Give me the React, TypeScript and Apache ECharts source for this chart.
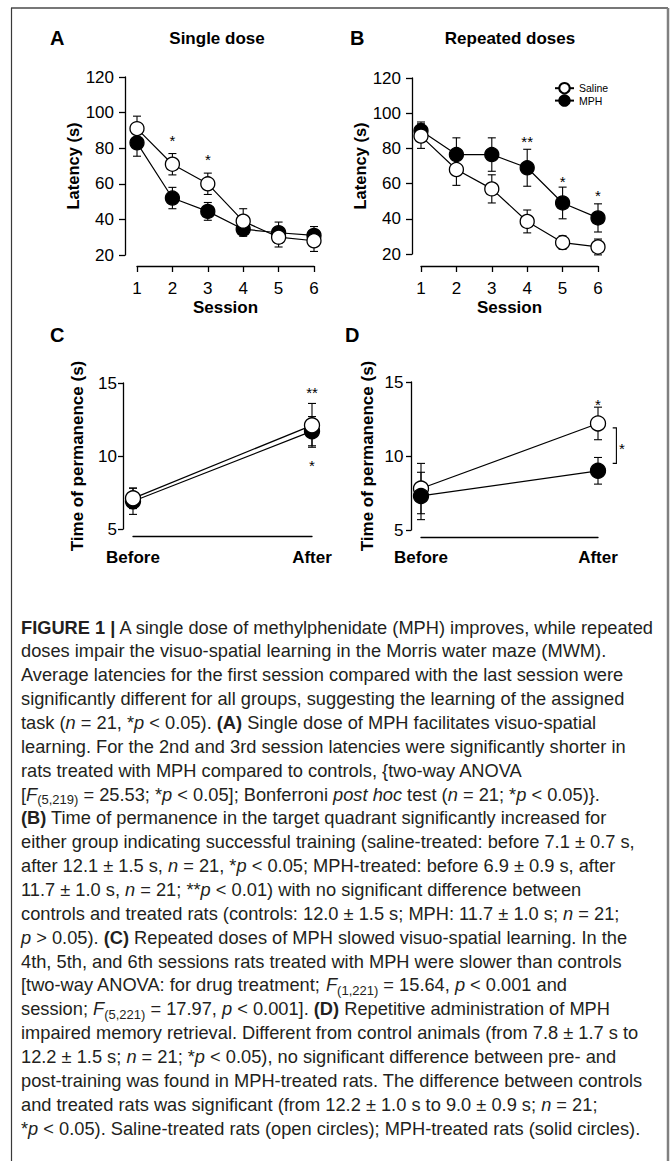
import React, { useEffect, useRef } from "react";
import * as echarts from "echarts";

const FF = "'Liberation Sans', Arial, Helvetica, sans-serif";

// ---- Panel A / B : latency per session ----
const sessions = ["1", "2", "3", "4", "5", "6"];
const singleSaline = [91, 71, 60, 39, 30, 28];
const singleSalineErr = [7, 6, 6, 7, 5.5, 6];
const singleMPH = [83, 52, 44.5, 34.5, 32.5, 31];
const singleMPHErr = [7.5, 6, 5, 4, 6, 5];
const repeatedSaline = [87, 68, 57, 38.5, 26.5, 24];
const repeatedSalineErr = [7, 9, 8, 6.5, 3.8, 4.5];
const repeatedMPH = [90, 76.5, 76.5, 69, 49, 40.5];
const repeatedMPHErr = [5, 9.5, 9.5, 10.5, 9, 8];

// ---- Panel C / D : time of permanence ----
const phases = ["Before", "After"];
const permSingleSaline = [7.1, 12.1];
const permSingleSalineErr = [0.7, 1.5];
const permSingleMPH = [6.9, 11.7];
const permSingleMPHErr = [0.9, 1.0];
const permRepeatedSaline = [7.8, 12.2];
const permRepeatedSalineErr = [1.7, 1.1];
const permRepeatedMPH = [7.3, 9.0];
const permRepeatedMPHErr = [1.6, 0.9];

// ---- significance marks ----
const sigAX = [1, 2];
const sigAY = [86, 75.5];
const sigAText = ["*", "*"];
const sigBX = [3, 4, 5];
const sigBY = [85.7, 63, 55];
const sigBText = ["**", "*", "*"];
const sigCX = [1, 1];
const sigCY = [14.55, 9.55];
const sigCText = ["**", "*"];
const sigDX = [1];
const sigDY = [13.7];
const sigDText = ["*"];
// bracket between groups in D: [x, top, bottom]
const bracketD = [[1, 11.9, 9.5]];

// ---- caption ----
type Seg = [string, string];
const captionLines: Seg[][] = [
  [["b", "FIGURE 1 |"], ["", " A single dose of methylphenidate (MPH) improves, while repeated"]],
  [["", "doses impair the visuo-spatial learning in the Morris water maze (MWM)."]],
  [["", "Average latencies for the first session compared with the last session were"]],
  [["", "significantly different for all groups, suggesting the learning of the assigned"]],
  [["", "task ("], ["i", "n"], ["", " = 21, *"], ["i", "p"], ["", " < 0.05). "], ["b", "(A)"], ["", " Single dose of MPH facilitates visuo-spatial"]],
  [["", "learning. For the 2nd and 3rd session latencies were significantly shorter in"]],
  [["", "rats treated with MPH compared to controls, {two-way ANOVA"]],
  [["", "["], ["i", "F"], ["s", "(5,219)"], ["", " = 25.53; *"], ["i", "p"], ["", " < 0.05]; Bonferroni "], ["i", "post hoc"], ["", " test ("], ["i", "n"], ["", " = 21; *"], ["i", "p"], ["", " < 0.05)}."]],
  [["b", "(B)"], ["", " Time of permanence in the target quadrant significantly increased for"]],
  [["", "either group indicating successful training (saline-treated: before 7.1 ± 0.7 s,"]],
  [["", "after 12.1 ± 1.5 s, "], ["i", "n"], ["", " = 21, *"], ["i", "p"], ["", " < 0.05; MPH-treated: before 6.9 ± 0.9 s, after"]],
  [["", "11.7 ± 1.0 s, "], ["i", "n"], ["", " = 21; **"], ["i", "p"], ["", " < 0.01) with no significant difference between"]],
  [["", "controls and treated rats (controls: 12.0 ± 1.5 s; MPH: 11.7 ± 1.0 s; "], ["i", "n"], ["", " = 21;"]],
  [["i", "p"], ["", " > 0.05). "], ["b", "(C)"], ["", " Repeated doses of MPH slowed visuo-spatial learning. In the"]],
  [["", "4th, 5th, and 6th sessions rats treated with MPH were slower than controls"]],
  [["", "[two-way ANOVA: for drug treatment; "], ["i", "F"], ["s", "(1,221)"], ["", " = 15.64, "], ["i", "p"], ["", " < 0.001 and"]],
  [["", "session; "], ["i", "F"], ["s", "(5,221)"], ["", " = 17.97, "], ["i", "p"], ["", " < 0.001]. "], ["b", "(D)"], ["", " Repetitive administration of MPH"]],
  [["", "impaired memory retrieval. Different from control animals (from 7.8 ± 1.7 s to"]],
  [["", "12.2 ± 1.5 s; "], ["i", "n"], ["", " = 21; *"], ["i", "p"], ["", " < 0.05), no significant difference between pre- and"]],
  [["", "post-training was found in MPH-treated rats. The difference between controls"]],
  [["", "and treated rats was significant (from 12.2 ± 1.0 s to 9.0 ± 0.9 s; "], ["i", "n"], ["", " = 21;"]],
  [["", "*"], ["i", "p"], ["", " < 0.05). Saline-treated rats (open circles); MPH-treated rats (solid circles)."]],
];

const CAP_X = 21;
const CAP_Y0 = 627;
const CAP_LH = 23.86;
const CAP_FS = 18.25;

function errRender(capHalf: number) {
  return (params: any, api: any) => {
    const x = api.value(0);
    const m = api.value(1);
    const e = api.value(2);
    const hi = api.coord([x, m + e]);
    const lo = api.coord([x, m - e]);
    const style = { stroke: "#000", lineWidth: 1.1 };
    return {
      type: "group",
      children: [
        { type: "line", shape: { x1: hi[0], y1: hi[1], x2: lo[0], y2: lo[1] }, style },
        { type: "line", shape: { x1: hi[0] - capHalf, y1: hi[1], x2: hi[0] + capHalf, y2: hi[1] }, style },
        { type: "line", shape: { x1: lo[0] - capHalf, y1: lo[1], x2: lo[0] + capHalf, y2: lo[1] }, style },
      ],
    };
  };
}

function sigRender(texts: string[]) {
  return (params: any, api: any) => {
    const p = api.coord([api.value(0), api.value(1)]);
    return {
      type: "text",
      x: p[0],
      y: p[1] + 3,
      style: {
        text: texts[params.dataIndex],
        fontSize: 15,
        fontFamily: FF,
        fill: "#000",
        align: "center",
        verticalAlign: "middle",
      },
    };
  };
}

function errSeries(name: string, idx: number, vals: number[], errs: number[], z: number) {
  return {
    name: name + " SEM",
    type: "custom",
    xAxisIndex: idx,
    yAxisIndex: idx,
    clip: false,
    z,
    encode: { x: 0, y: 1 },
    renderItem: errRender(4),
    data: vals.map((v, i) => [i, v, errs[i]]),
  };
}

function lineSeries(name: string, idx: number, vals: number[], filled: boolean, size: number, z: number) {
  return {
    name,
    type: "line",
    xAxisIndex: idx,
    yAxisIndex: idx,
    z,
    symbol: "circle",
    symbolSize: size,
    showSymbol: true,
    itemStyle: { color: filled ? "#000" : "#fff", borderColor: "#000", borderWidth: 1.3 },
    lineStyle: { color: "#000", width: 1.2 },
    emphasis: { disabled: true },
    data: vals,
  };
}

function sigSeries(idx: number, xs: number[], ys: number[], texts: string[]) {
  return {
    name: "sig" + idx,
    type: "custom",
    xAxisIndex: idx,
    yAxisIndex: idx,
    clip: false,
    z: 10,
    encode: { x: 0, y: 1 },
    renderItem: sigRender(texts),
    data: xs.map((x, i) => [x, ys[i]]),
  };
}

function richString(segs: Seg[]) {
  return segs.map(([s, t]) => (s ? `{${s}|${t}}` : t)).join("");
}

export default function App() {
  const ref = useRef<HTMLDivElement>(null);

  useEffect(() => {
    if (!ref.current) return;
    const chart = echarts.init(ref.current, undefined, { renderer: "svg" });

    const axisLine = { show: true, lineStyle: { color: "#000", width: 1.3 } };
    const labelBase = { color: "#000", fontSize: 17, fontFamily: FF };
    const nameStyle = { color: "#000", fontSize: 17, fontWeight: "bold", fontFamily: FF };

    const latX = (gi: number, offset: number) => ({
      gridIndex: gi,
      type: "category",
      data: sessions,
      boundaryGap: false,
      offset,
      axisLine,
      axisTick: { show: true, length: 6, lineStyle: { color: "#000", width: 1.3 } },
      axisLabel: { ...labelBase, margin: 14 },
      splitLine: { show: false },
      name: "Session",
      nameLocation: "middle",
      nameGap: 33,
      nameTextStyle: nameStyle,
    });
    const latY = (gi: number, offset: number, gap: number) => ({
      gridIndex: gi,
      type: "value",
      min: 20,
      max: 120,
      interval: 20,
      offset,
      axisLine,
      axisTick: { show: true, length: 6, lineStyle: { color: "#000", width: 1.3 } },
      axisLabel: { ...labelBase, margin: 11 },
      splitLine: { show: false },
      name: "Latency (s)",
      nameLocation: "middle",
      nameGap: gap,
      nameTextStyle: { ...nameStyle, fontSize: 16.5 },
    });
    const permX = (gi: number, offset: number, margin: number) => ({
      gridIndex: gi,
      type: "category",
      data: phases,
      boundaryGap: false,
      offset,
      axisLine,
      axisTick: { show: false },
      axisLabel: { ...labelBase, fontWeight: "bold", margin },
      splitLine: { show: false },
    });
    const permY = (gi: number, offset: number, gap: number, margin: number) => ({
      gridIndex: gi,
      type: "value",
      min: 5,
      max: 15,
      interval: 5,
      offset,
      axisLine,
      axisTick: { show: true, length: 5, lineStyle: { color: "#000", width: 1.3 } },
      axisLabel: { ...labelBase, margin },
      splitLine: { show: false },
      name: "Time of permanence (s)",
      nameLocation: "middle",
      nameGap: gap,
      nameTextStyle: nameStyle,
    });

    const rich = {
      b: { fontSize: CAP_FS, fontFamily: FF, fontWeight: "bold", fill: "#231f20", lineHeight: 24 },
      i: { fontSize: CAP_FS, fontFamily: FF, fontStyle: "italic", fill: "#231f20", lineHeight: 24 },
      s: { fontSize: 13, fontFamily: FF, fill: "#231f20", lineHeight: 14, verticalAlign: "bottom" },
    };

    const captionGraphics = captionLines.map((segs, i) => ({
      type: "text",
      x: CAP_X,
      y: CAP_Y0 + i * CAP_LH,
      style: {
        text: richString(segs),
        fontSize: CAP_FS,
        fontFamily: FF,
        fill: "#231f20",
        verticalAlign: "middle",
        lineHeight: 24,
        rich,
      },
    }));

    const label = (text: string, x: number, y: number, size: number, align = "left") => ({
      type: "text",
      x,
      y,
      style: { text, fontSize: size, fontWeight: "bold", fontFamily: FF, fill: "#000", align, verticalAlign: "middle" },
    });

    const option: any = {
      animation: false,
      backgroundColor: "#fff",
      grid: [
        { left: 137, top: 77, width: 177, height: 178 },
        { left: 421, top: 78, width: 177, height: 176 },
        { left: 133, top: 383, width: 179, height: 146 },
        { left: 421, top: 382, width: 177, height: 148 },
      ],
      xAxis: [latX(0, 11), latX(1, 12), permX(2, 7.5, 12), permX(3, 7, 11.5)],
      yAxis: [latY(0, 12, 41), latY(1, 9, 43), permY(2, 10, 37.5, 6), permY(3, 10, 35.5, 7.5)],
      legend: {
        data: ["Saline", "MPH"],
        orient: "vertical",
        left: 554,
        top: 82,
        padding: 0,
        itemWidth: 19,
        itemHeight: 13,
        itemGap: 0,
        selectedMode: false,
        textStyle: { color: "#000", fontSize: 10.5, fontFamily: FF },
      },
      graphic: [
        { type: "line", shape: { x1: 11, y1: 8, x2: 668, y2: 8 }, style: { stroke: "#4a4a4a", lineWidth: 1.5 } },
        { type: "line", shape: { x1: 11.5, y1: 8, x2: 11.5, y2: 1161 }, style: { stroke: "#3a3a3a", lineWidth: 1.2 } },
        { type: "line", shape: { x1: 668, y1: 8, x2: 668, y2: 1161 }, style: { stroke: "#808080", lineWidth: 2.5 } },
        label("A", 50, 38, 20),
        label("B", 350, 38, 20),
        label("C", 50, 335, 20),
        label("D", 345, 335, 20),
        label("Single dose", 217, 38, 17, "center"),
        label("Repeated doses", 510, 38, 17, "center"),
        ...captionGraphics,
      ],
      series: [
        // Panel A
        errSeries("MPH", 0, singleMPH, singleMPHErr, 1),
        errSeries("Saline", 0, singleSaline, singleSalineErr, 1),
        lineSeries("MPH", 0, singleMPH, true, 14, 2),
        lineSeries("Saline", 0, singleSaline, false, 14, 3),
        sigSeries(0, sigAX, sigAY, sigAText),
        // Panel B
        errSeries("MPH", 1, repeatedMPH, repeatedMPHErr, 1),
        errSeries("Saline", 1, repeatedSaline, repeatedSalineErr, 1),
        lineSeries("MPH", 1, repeatedMPH, true, 14, 2),
        lineSeries("Saline", 1, repeatedSaline, false, 14, 3),
        sigSeries(1, sigBX, sigBY, sigBText),
        // Panel C
        errSeries("MPH", 2, permSingleMPH, permSingleMPHErr, 1),
        errSeries("Saline", 2, permSingleSaline, permSingleSalineErr, 1),
        lineSeries("MPH", 2, permSingleMPH, true, 15, 2),
        lineSeries("Saline", 2, permSingleSaline, false, 15, 3),
        sigSeries(2, sigCX, sigCY, sigCText),
        // Panel D
        errSeries("Saline", 3, permRepeatedSaline, permRepeatedSalineErr, 1),
        errSeries("MPH", 3, permRepeatedMPH, permRepeatedMPHErr, 1),
        lineSeries("Saline", 3, permRepeatedSaline, false, 15, 2),
        lineSeries("MPH", 3, permRepeatedMPH, true, 15, 3),
        sigSeries(3, sigDX, sigDY, sigDText),
        {
          name: "bracketD",
          type: "custom",
          xAxisIndex: 3,
          yAxisIndex: 3,
          clip: false,
          z: 10,
          encode: { x: 0, y: 1 },
          data: bracketD,
          renderItem: (params: any, api: any) => {
            const x = api.value(0);
            const top = api.coord([x, api.value(1)]);
            const bot = api.coord([x, api.value(2)]);
            const mid = api.coord([x, (api.value(1) + api.value(2)) / 2]);
            const style = { stroke: "#000", lineWidth: 1.1, fill: null };
            return {
              type: "group",
              children: [
                {
                  type: "polyline",
                  shape: {
                    points: [
                      [top[0] + 14.7, top[1]],
                      [top[0] + 18.4, top[1]],
                      [bot[0] + 18.4, bot[1]],
                      [bot[0] + 14.7, bot[1]],
                    ],
                  },
                  style,
                },
                {
                  type: "text",
                  x: mid[0] + 24,
                  y: mid[1] + 3,
                  style: { text: "*", fontSize: 15, fontFamily: FF, fill: "#000", align: "center", verticalAlign: "middle" },
                },
              ],
            };
          },
        },
      ],
    };

    chart.setOption(option);
    return () => chart.dispose();
  }, []);

  return (
    <div
      ref={ref}
      style={{ position: "absolute", left: 0, top: 0, width: 670, height: 1161 }}
    />
  );
}
